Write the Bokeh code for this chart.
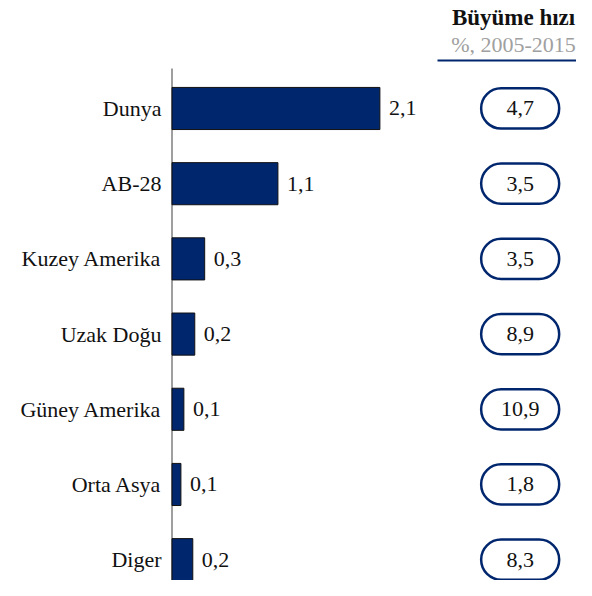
from bokeh.plotting import figure
from bokeh.models import Range1d, LinearAxis, FixedTicker, ColumnDataSource, Label
from bokeh.core.properties import value
from bokeh.embed import file_html
from bokeh.resources import INLINE

categories = ["Dunya", "AB-28", "Kuzey Amerika", "Uzak Doğu", "Güney Amerika", "Orta Asya", "Diger"]
share_values = [2.1, 1.07, 0.33, 0.23, 0.12, 0.09, 0.21]
growth_values = [4.7, 3.5, 3.5, 8.9, 10.9, 1.8, 8.3]
header_title = "Büyüme hızı"
header_sub = "%, 2005-2015"

FONT = "Liberation Serif"
NAVY = "#00266E"

n = len(categories)
ys = [n - 1 - i for i in range(n)]
fmt = lambda v: f"{v:.1f}".replace(".", ",")

src = ColumnDataSource(dict(
    y=ys, v=share_values, vlab=[fmt(v) for v in share_values],
    g=growth_values, glab=[fmt(g) for g in growth_values],
))

X0, X1 = -0.0354, 4.086
Y0, Y1 = -0.277, 7.436

p = figure(width=576, height=580, output_backend="svg", toolbar_location=None,
           x_range=Range1d(X0, X1), y_range=Range1d(Y0, Y1),
           x_axis_type=None, y_axis_type=None,
           min_border_left=168, min_border_right=0, min_border_top=0, min_border_bottom=0)
p.outline_line_color = None
p.grid.visible = False
p.background_fill_color = "white"

ax = LinearAxis(ticker=FixedTicker(ticks=ys),
                major_label_overrides={y: c for y, c in zip(ys, categories)})
ax.axis_line_color = None
ax.major_tick_line_color = None
ax.minor_tick_line_color = None
ax.major_tick_out = 0
ax.major_tick_in = 0
ax.minor_tick_out = 0
ax.major_label_standoff = 7
ax.major_label_text_font = FONT
ax.major_label_text_font_size = "22px"
ax.major_label_text_color = "#111111"
p.add_layout(ax, "left")

# vertical axis line
p.segment(x0=[0], y0=[Y0], x1=[0], y1=[6.532], line_color="#7f7f7f", line_width=1.5)

# bars
p.hbar(y="y", left=0, right="v", height=0.56, source=src,
       fill_color=NAVY, line_color="#111111", line_width=1)
p.text(x="v", y="y", text="vlab", source=src, x_offset=9,
       text_baseline="middle", text_align="left",
       text_font=value(FONT), text_font_size="22px", text_color="#111111")

# growth pills
cx = 3.517
hw = 0.394
p.hbar(y="y", left=cx - hw, right=cx + hw, height=0.535, source=src,
       fill_color="white", line_color=NAVY, line_width=2.5, border_radius=20)
p.text(x=cx, y="y", text="glab", source=src,
       text_baseline="middle", text_align="center",
       text_font=value(FONT), text_font_size="22px", text_color="#111111")

# header
p.segment(x0=[2.682], y0=[6.638], x1=[X1], y1=[6.638], line_color=NAVY, line_width=2)
p.add_layout(Label(x=3.45, y=7.206, text=header_title, text_align="center",
                   text_baseline="alphabetic", text_font=FONT, text_font_size="23px",
                   text_font_style="bold", text_color="#111111"))
p.add_layout(Label(x=3.45, y=6.851, text=header_sub, text_align="center",
                   text_baseline="alphabetic", text_font=FONT, text_font_size="22px",
                   text_color="#a0a0a0"))

open("out.html", "w").write(file_html(p, INLINE))
